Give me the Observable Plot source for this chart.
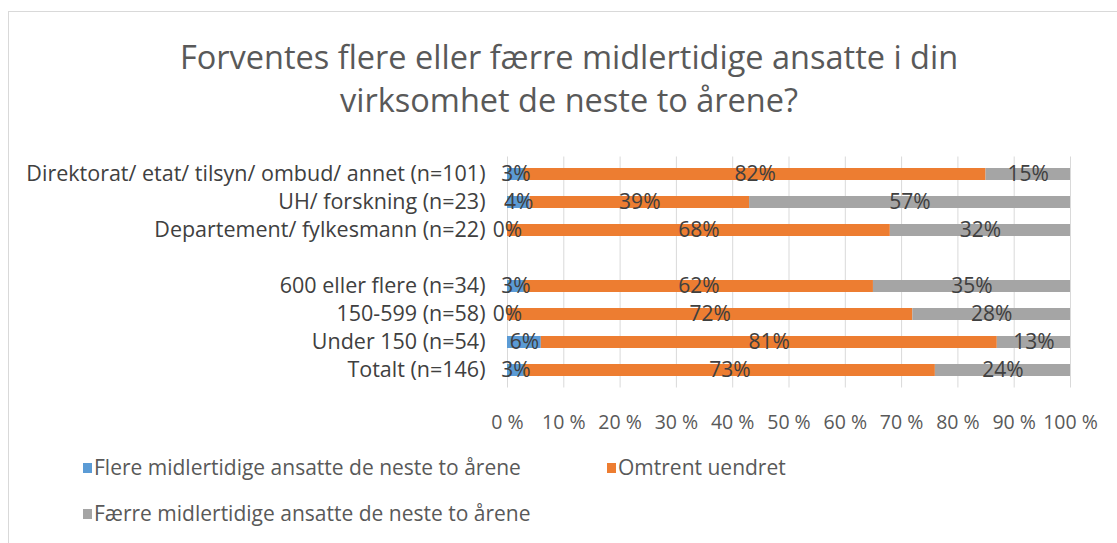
<!DOCTYPE html>
<html><head><meta charset="utf-8">
<script src="https://cdn.jsdelivr.net/npm/d3@7"></script>
<script src="https://cdn.jsdelivr.net/npm/@observablehq/plot@0.6"></script>
<style>
body{margin:0;background:#fff;font-family:"Open Sans",sans-serif;}
#wrap{position:relative;width:1117px;height:543px;overflow:hidden;background:#fff;}
#frame{position:absolute;left:8px;top:11px;width:1200px;height:600px;border:1px solid #d9d9d9;}
#title{position:absolute;top:35px;left:8px;width:1122px;text-align:center;font-size:32.5px;line-height:43px;color:#595959;}
#chart{position:absolute;left:0;top:140px;}
.leg{position:absolute;font-size:21px;color:#595959;white-space:nowrap;line-height:26px;}
.sw{display:inline-block;width:9px;height:10px;margin-right:2px;vertical-align:middle;position:relative;top:-1px;}
</style></head>
<body>
<div id="wrap">
<div id="frame"></div>
<div id="title">Forventes flere eller færre midlertidige ansatte i din<br>virksomhet de neste to årene?</div>
<div id="chart"></div>
<div id="legend"></div>
</div>
<script>
const categories = [
  "Direktorat/ etat/ tilsyn/ ombud/ annet (n=101)",
  "UH/ forskning (n=23)",
  "Departement/ fylkesmann (n=22)",
  "600 eller flere (n=34)",
  "150-599 (n=58)",
  "Under 150 (n=54)",
  "Totalt (n=146)"
];
const flere   = [3, 4, 0, 3, 0, 6, 3];
const uendret = [82, 39, 68, 62, 72, 81, 73];
const faerre  = [15, 57, 32, 35, 28, 13, 24];
const seriesNames = [
  "Flere midlertidige ansatte de neste to årene",
  "Omtrent uendret",
  "Færre midlertidige ansatte de neste to årene"
];
const seriesColors = ["#5B9BD5", "#ED7D31", "#A5A5A5"];
const xTicks = [0, 10, 20, 30, 40, 50, 60, 70, 80, 90, 100];

const yDomain = [...categories.slice(0, 3), "", ...categories.slice(3)];
const seriesValues = [flere, uendret, faerre];
const data = [];
categories.forEach((c, i) => {
  seriesNames.forEach((s, j) => data.push({category: c, series: s, value: seriesValues[j][i]}));
});

const chart = Plot.plot({
  width: 1117, height: 300,
  marginLeft: 507, marginRight: 47, marginTop: 16.5, marginBottom: 52.5,
  style: {fontFamily: '"Open Sans", sans-serif', fontSize: "20px", color: "#595959", background: "transparent"},
  x: {domain: [0, 100], label: null},
  y: {domain: yDomain, paddingInner: 0.58, paddingOuter: 0.29, label: null},
  color: {domain: seriesNames, range: seriesColors},
  marks: [
    Plot.ruleX(xTicks, {stroke: "#d9d9d9", strokeWidth: 1}),
    Plot.barX(data, {x: "value", y: "category", fill: "series", order: seriesNames}),
    Plot.text(data, Plot.stackX({x: "value", y: "category", z: "series", order: seriesNames,
      text: d => d.value + "%", fill: "#404040", fontSize: 21})),
    Plot.axisX({ticks: xTicks, tickFormat: d => d + " %", tickSize: 0, tickPadding: 27.5, fontSize: 19.5, label: null, fill: "#595959"}),
    Plot.axisY({tickSize: 0, tickPadding: 22, fontSize: 21.5, label: null, fill: "#404040"})
  ]
});
document.getElementById("chart").appendChild(chart);

const legendPos = [[83, 454], [607, 454], [83, 500]];
const legend = document.getElementById("legend");
seriesNames.forEach((s, i) => {
  const el = document.createElement("div");
  el.className = "leg";
  el.style.left = legendPos[i][0] + "px";
  el.style.top = legendPos[i][1] + "px";
  el.innerHTML = `<span class="sw" style="background:${seriesColors[i]}"></span>${s}`;
  legend.appendChild(el);
});
</script>
</body></html>
